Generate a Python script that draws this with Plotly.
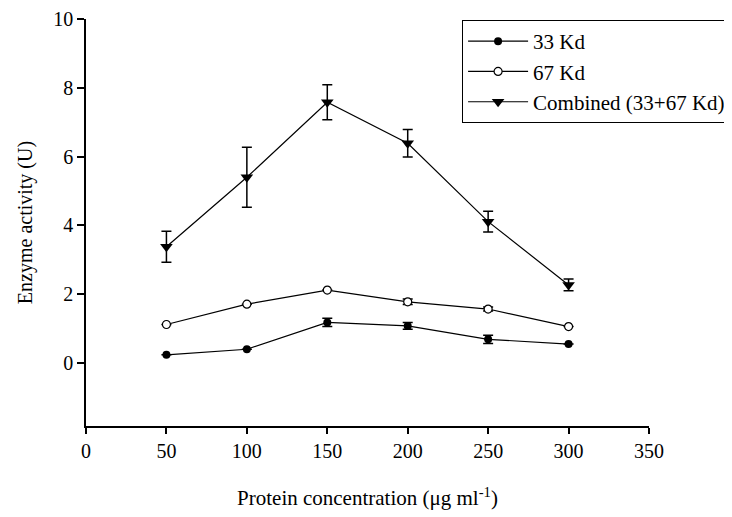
import plotly.graph_objects as go

conc = [50, 100, 150, 200, 250, 300]
kd33 = [0.24, 0.40, 1.18, 1.08, 0.69, 0.55]
kd33_err = [0.0, 0.0, 0.12, 0.10, 0.12, 0.0]
kd67 = [1.12, 1.71, 2.12, 1.78, 1.57, 1.06]
kd67_err = [0.0, 0.0, 0.0, 0.08, 0.06, 0.0]
combined = [3.38, 5.40, 7.58, 6.39, 4.11, 2.27]
combined_err = [0.45, 0.87, 0.51, 0.40, 0.30, 0.17]

FONT = "Liberation Serif, Times New Roman, serif"

def err(vals):
    return dict(type="data", array=vals, visible=True, color="black", thickness=1.5, width=5)

fig = go.Figure()
fig.add_trace(go.Scatter(x=conc, y=kd33, name="33 Kd", mode="lines+markers",
                         line=dict(color="black", width=1.2),
                         marker=dict(symbol="circle", size=8, color="black"),
                         error_y=err(kd33_err)))
fig.add_trace(go.Scatter(x=conc, y=kd67, name="67 Kd", mode="lines+markers",
                         line=dict(color="black", width=1.2),
                         marker=dict(symbol="circle", size=8, color="white", line=dict(color="black", width=1.2)),
                         error_y=err(kd67_err)))
fig.add_trace(go.Scatter(x=conc, y=combined, name="Combined (33+67 Kd)", mode="lines+markers",
                         line=dict(color="black", width=1.2),
                         marker=dict(symbol="triangle-down", size=11, color="black"),
                         error_y=err(combined_err)))

fig.update_layout(
    width=732, height=517,
    margin=dict(l=78, r=91, t=11, b=99, autoexpand=False),
    paper_bgcolor="white", plot_bgcolor="white",
    font=dict(family=FONT, size=20, color="black"),
    showlegend=True,
    legend=dict(x=0.668, y=0.9975, xanchor="left", yanchor="top",
                bordercolor="black", borderwidth=1, bgcolor="white",
                itemwidth=60,
                font=dict(family=FONT, size=21), tracegroupgap=0),
    xaxis=dict(range=[0, 350], tickvals=[0, 50, 100, 150, 200, 250, 300, 350],
               showline=True, linecolor="black", linewidth=1.5,
               ticks="outside", ticklen=6, tickcolor="black", tickwidth=1.5,
               showgrid=False, zeroline=False, automargin=False,
               tickfont=dict(family=FONT, size=20),
               title=dict(text="Protein concentration (μg ml<sup>-1</sup>)", standoff=30,
                          font=dict(family=FONT, size=21))),
    yaxis=dict(range=[-1.83, 10], tickvals=[0, 2, 4, 6, 8, 10],
               showline=True, linecolor="black", linewidth=1.5,
               ticks="outside", ticklen=7, tickcolor="black", tickwidth=1.5,
               showgrid=False, zeroline=False, automargin=False,
               tickfont=dict(family=FONT, size=20),
               title=dict(text="Enzyme activity (U)", standoff=15,
                          font=dict(family=FONT, size=20))),
)

fig.write_html("out.html")
